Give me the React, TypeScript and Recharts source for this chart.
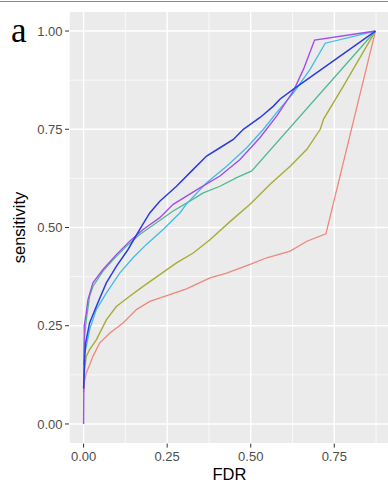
import React from 'react';
import { LineChart, Line, XAxis, YAxis, CartesianGrid, ReferenceLine, Label } from 'recharts';

// ---------- data ----------
const X_TICKS = [0, 0.25, 0.5, 0.75];
const Y_TICKS = [0, 0.25, 0.5, 0.75, 1];
const X_MINOR = [0.125, 0.375, 0.625, 0.875];
const Y_MINOR = [0.125, 0.375, 0.625, 0.875];

const redFdr = [0, 0.003, 0.008, 0.018, 0.028, 0.048, 0.078, 0.118, 0.158, 0.198, 0.258, 0.308, 0.378, 0.428, 0.498, 0.548, 0.618, 0.668, 0.725, 0.873];
const redSens = [0.08, 0.11, 0.13, 0.15, 0.172, 0.206, 0.231, 0.257, 0.291, 0.312, 0.329, 0.344, 0.372, 0.384, 0.406, 0.423, 0.44, 0.465, 0.484, 1.0];

const oliveFdr = [0, 0.003, 0.008, 0.018, 0.038, 0.068, 0.098, 0.138, 0.178, 0.228, 0.278, 0.328, 0.378, 0.438, 0.498, 0.558, 0.618, 0.668, 0.708, 0.718, 0.778, 0.873];
const oliveSens = [0.09, 0.14, 0.172, 0.189, 0.214, 0.265, 0.299, 0.325, 0.35, 0.38, 0.41, 0.435, 0.469, 0.515, 0.559, 0.61, 0.656, 0.699, 0.75, 0.776, 0.861, 1.0];

const greenFdr = [0, 0.003, 0.008, 0.018, 0.028, 0.058, 0.088, 0.128, 0.168, 0.218, 0.268, 0.308, 0.358, 0.408, 0.458, 0.503, 0.873];
const greenSens = [0.15, 0.22, 0.265, 0.325, 0.35, 0.389, 0.418, 0.452, 0.482, 0.512, 0.542, 0.562, 0.588, 0.605, 0.627, 0.644, 1.0];

const cyanFdr = [0.003, 0.008, 0.018, 0.038, 0.068, 0.108, 0.148, 0.188, 0.238, 0.288, 0.308, 0.368, 0.428, 0.488, 0.538, 0.578, 0.628, 0.678, 0.723, 0.873];
const cyanSens = [0.18, 0.197, 0.24, 0.291, 0.333, 0.384, 0.423, 0.457, 0.495, 0.537, 0.56, 0.614, 0.656, 0.703, 0.75, 0.793, 0.843, 0.903, 0.969, 1.0];

const purpleFdr = [0, 0.002, 0.008, 0.013, 0.028, 0.058, 0.098, 0.138, 0.178, 0.228, 0.268, 0.308, 0.348, 0.408, 0.468, 0.528, 0.578, 0.628, 0.658, 0.691, 0.873];
const purpleSens = [0, 0.25, 0.283, 0.316, 0.359, 0.393, 0.431, 0.465, 0.495, 0.525, 0.559, 0.58, 0.601, 0.631, 0.673, 0.729, 0.784, 0.848, 0.903, 0.977, 1.0];

const blueFdr = [0, 0.003, 0.006, 0.018, 0.038, 0.068, 0.098, 0.133, 0.168, 0.198, 0.228, 0.278, 0.328, 0.368, 0.408, 0.448, 0.478, 0.528, 0.568, 0.588, 0.628, 0.873];
const blueSens = [0.09, 0.16, 0.206, 0.257, 0.299, 0.359, 0.401, 0.444, 0.495, 0.537, 0.567, 0.605, 0.648, 0.682, 0.703, 0.724, 0.75, 0.78, 0.809, 0.827, 0.852, 1.0];

const toPoints = (fdr: number[], sens: number[]) => fdr.map((x, i) => ({ x, y: sens[i] }));

const SERIES = [
  { name: 'red', color: '#F0877B', width: 1.3, data: toPoints(redFdr, redSens) },
  { name: 'olive', color: '#A8AC36', width: 1.4, data: toPoints(oliveFdr, oliveSens) },
  { name: 'green', color: '#4FBA92', width: 1.3, data: toPoints(greenFdr, greenSens) },
  { name: 'cyan', color: '#40BCE8', width: 1.3, data: toPoints(cyanFdr, cyanSens) },
  { name: 'purple', color: '#A24DEB', width: 1.4, data: toPoints(purpleFdr, purpleSens) },
  { name: 'blue', color: '#2C3CDF', width: 1.5, data: toPoints(blueFdr, blueSens) },
];

const SANS = '"Liberation Sans", Arial, Helvetica, sans-serif';
const fmt = (v: number) => v.toFixed(2);

const YTitle = (props: any) => {
  const vb = props.viewBox || { x: 0, y: 0, width: 0, height: 0 };
  const cx = vb.x + 24.5;
  const cy = vb.y + vb.height / 2;
  return (
    <g>
      <text
        x={cx}
        y={cy}
        transform={`rotate(-90, ${cx}, ${cy})`}
        textAnchor="middle"
        fontFamily={SANS}
        fontSize={16.5}
        fill="#000"
      >
        sensitivity
      </text>
      <text x={11} y={42} fontFamily='"Liberation Serif", "Times New Roman", serif' fontSize={35} fill="#000">
        a
      </text>
    </g>
  );
};

export default function App() {
  return (
    <div style={{ position: 'absolute', left: 0, top: 0, width: 388, height: 483, overflow: 'hidden', background: '#fff' }}>
      <div style={{ position: 'absolute', left: 0, top: 1, width: 388, height: 1, background: '#8a8a8a' }} />
      <LineChart width={390} height={483} margin={{ top: 11.4, right: 0, bottom: 0, left: 0 }}>
        <CartesianGrid fill="#EBEBEB" stroke="#FFFFFF" strokeWidth={1.4} />
        {X_MINOR.map((v) => (
          <ReferenceLine key={`xm${v}`} x={v} stroke="#FFFFFF" strokeWidth={0.7} ifOverflow="hidden" />
        ))}
        {Y_MINOR.map((v) => (
          <ReferenceLine key={`ym${v}`} y={v} stroke="#FFFFFF" strokeWidth={0.7} ifOverflow="hidden" />
        ))}
        <XAxis
          dataKey="x"
          type="number"
          domain={[-0.04365, 0.91665]}
          allowDataOverflow
          ticks={X_TICKS}
          tickFormatter={fmt}
          height={39.4}
          axisLine={false}
          tickSize={4}
          tickMargin={4}
          tickLine={{ stroke: '#333333' }}
          tick={{ fill: '#4D4D4D', fontSize: 13, fontFamily: SANS }}
        >
          <Label value="FDR" position="insideBottom" offset={3.5} style={{ fontFamily: SANS, fontSize: 16.5, fill: '#000' }} />
        </XAxis>
        <YAxis
          dataKey="y"
          type="number"
          domain={[-0.05, 1.05]}
          allowDataOverflow
          ticks={Y_TICKS}
          tickFormatter={fmt}
          width={69}
          axisLine={false}
          tickSize={4}
          tickMargin={2.5}
          tickLine={{ stroke: '#333333' }}
          tick={{ fill: '#4D4D4D', fontSize: 13, fontFamily: SANS }}
        >
          <Label content={<YTitle />} />
        </YAxis>
        {SERIES.map((s) => (
          <Line
            key={s.name}
            data={s.data}
            dataKey="y"
            type="linear"
            stroke={s.color}
            strokeWidth={s.width}
            dot={false}
            isAnimationActive={false}
          />
        ))}
      </LineChart>
    </div>
  );
}
